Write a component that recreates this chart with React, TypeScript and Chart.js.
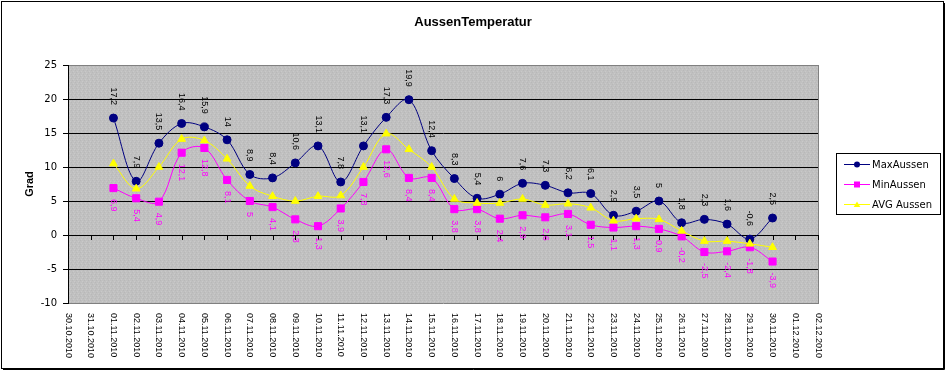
import React, { useEffect, useRef } from 'react';
import { Chart, registerables } from 'chart.js';

Chart.register(...registerables);

const categories = [
  '30.10.2010', '31.10.2010', '01.11.2010', '02.11.2010', '03.11.2010', '04.11.2010',
  '05.11.2010', '06.11.2010', '07.11.2010', '08.11.2010', '09.11.2010', '10.11.2010',
  '11.11.2010', '12.11.2010', '13.11.2010', '14.11.2010', '15.11.2010', '16.11.2010',
  '17.11.2010', '18.11.2010', '19.11.2010', '20.11.2010', '21.11.2010', '22.11.2010',
  '23.11.2010', '24.11.2010', '25.11.2010', '26.11.2010', '27.11.2010', '28.11.2010',
  '29.11.2010', '30.11.2010', '01.12.2010', '02.12.2010',
];

const maxAussen = [
  null, null, 17.2, 7.9, 13.5, 16.4, 15.9, 14, 8.9, 8.4, 10.6, 13.1, 7.8, 13.1, 17.3, 19.9,
  12.4, 8.3, 5.4, 6, 7.6, 7.3, 6.2, 6.1, 2.9, 3.5, 5, 1.8, 2.3, 1.6, -0.6, 2.5, null, null,
];

const minAussen = [
  null, null, 6.9, 5.4, 4.9, 12.1, 12.8, 8.1, 5, 4.1, 2.3, 1.3, 3.9, 7.8, 12.6, 8.4,
  8.4, 3.8, 3.8, 2.4, 2.9, 2.6, 3.1, 1.5, 1.1, 1.3, 0.9, -0.2, -2.5, -2.4, -1.8, -3.9, null, null,
];

const avgAussen = [
  null, null, 10.5, 6.8, 10.0, 14.1, 13.9, 11.2, 7.2, 5.7, 5.0, 5.7, 5.8, 10.0, 14.9, 12.6,
  10.0, 5.3, 4.7, 4.7, 5.3, 4.4, 4.6, 4.0, 2.1, 2.4, 2.3, 0.6, -0.9, -0.9, -1.3, -1.8, null, null,
];

const seriesNames = ['MaxAussen', 'MinAussen', 'AVG Aussen'];
const seriesColors = ['#000080', '#FF00FF', '#FFFF00'];
const labelColors = ['#000000', '#FF00FF'];
const chartTitle = 'AussenTemperatur';
const yTitle = 'Grad';
const yMin = -10;
const yMax = 25;
const yStep = 5;

const LABEL_FONT = '9px "Liberation Sans", Arial, sans-serif';

function fmt(v: number) {
  return String(v).replace('.', ',');
}

function drawMarker(ctx: CanvasRenderingContext2D, kind: string, x: number, y: number, r: number, color: string) {
  ctx.fillStyle = color;
  ctx.beginPath();
  if (kind === 'circle') {
    ctx.arc(x, y, r, 0, Math.PI * 2);
  } else if (kind === 'rect') {
    ctx.rect(x - r, y - r, r * 2, r * 2);
  } else {
    ctx.moveTo(x, y - r);
    ctx.lineTo(x + r * 1.1, y + r * 0.8);
    ctx.lineTo(x - r * 1.1, y + r * 0.8);
    ctx.closePath();
  }
  ctx.fill();
}

export default function App() {
  const canvasRef = useRef<HTMLCanvasElement | null>(null);

  useEffect(() => {
    document.body.style.margin = '0';
    const canvas = canvasRef.current;
    if (!canvas) return;

    const pc = document.createElement('canvas');
    pc.width = 4;
    pc.height = 4;
    const pctx = pc.getContext('2d')!;
    pctx.fillStyle = '#C0C0C0';
    pctx.fillRect(0, 0, 4, 4);
    pctx.fillStyle = '#B8B8B8';
    pctx.fillRect(0, 0, 1, 1);
    pctx.fillRect(3, 2, 1, 1);
    pctx.fillStyle = '#C9C9C9';
    pctx.fillRect(2, 1, 1, 1);
    pctx.fillRect(1, 3, 1, 1);
    const ctx0 = canvas.getContext('2d')!;
    const pattern = ctx0.createPattern(pc, 'repeat');

    const excelPlugin = {
      id: 'excelLook',
      beforeDraw(chart: any) {
        const { ctx, chartArea: a } = chart;
        ctx.save();
        ctx.fillStyle = '#FFFFFF';
        ctx.fillRect(0, 0, chart.width, chart.height);
        ctx.fillStyle = pattern || '#C0C0C0';
        ctx.fillRect(a.left, a.top, a.right - a.left, a.bottom - a.top);
        ctx.restore();
      },
      beforeDatasetsDraw(chart: any) {
        const { ctx, chartArea: a } = chart;
        const xs = chart.scales.x;
        const ys = chart.scales.y;
        ctx.save();
        ctx.strokeStyle = '#808080';
        ctx.lineWidth = 1;
        ctx.beginPath();
        ctx.moveTo(Math.round(a.right) + 0.5, a.top);
        ctx.lineTo(Math.round(a.right) + 0.5, a.bottom + 1);
        ctx.stroke();
        const y0 = Math.round(ys.getPixelForValue(0));
        ctx.strokeStyle = '#000000';
        ctx.beginPath();
        for (let i = 0; i < categories.length; i++) {
          const x = Math.round(xs.getPixelForValue(i)) + 0.5;
          ctx.moveTo(x, y0);
          ctx.lineTo(x, y0 + 5);
        }
        ctx.stroke();
        ctx.restore();
      },
      afterDatasetsDraw(chart: any) {
        const { ctx } = chart;
        ctx.save();
        ctx.font = LABEL_FONT;
        ctx.textAlign = 'left';
        ctx.textBaseline = 'middle';
        [0, 1].forEach((di) => {
          const meta = chart.getDatasetMeta(di);
          const values = chart.data.datasets[di].data;
          meta.data.forEach((pt: any, j: number) => {
            const v = values[j];
            if (v === null || v === undefined) return;
            const t = fmt(v);
            const w = ctx.measureText(t).width;
            ctx.save();
            const startY = di === 0 ? pt.y - 13 - w : pt.y + 11;
            ctx.translate(pt.x, startY);
            ctx.rotate(Math.PI / 2);
            ctx.fillStyle = labelColors[di];
            ctx.fillText(t, 0, 0);
            ctx.restore();
          });
        });
        ctx.restore();
      },
      afterDraw(chart: any) {
        const { ctx, chartArea: a } = chart;
        const xs = chart.scales.x;
        ctx.save();
        // frame
        ctx.strokeStyle = '#000000';
        ctx.lineWidth = 1;
        ctx.strokeRect(1.5, 1.5, 942, 367);
        ctx.beginPath();
        ctx.moveTo(944.5, 3);
        ctx.lineTo(944.5, 369.5);
        ctx.lineTo(3, 369.5);
        ctx.stroke();
        // title
        ctx.fillStyle = '#000000';
        ctx.font = 'bold 13px "Liberation Sans", Arial, sans-serif';
        ctx.textAlign = 'center';
        ctx.textBaseline = 'middle';
        ctx.fillText(chartTitle, 473, 22);
        // y title
        ctx.save();
        ctx.font = 'bold 11px "Liberation Sans", Arial, sans-serif';
        ctx.translate(30, (a.top + a.bottom) / 2);
        ctx.rotate(-Math.PI / 2);
        ctx.fillText(yTitle, 0, 0);
        ctx.restore();
        // x labels
        ctx.font = LABEL_FONT;
        ctx.textAlign = 'left';
        for (let i = 0; i < categories.length; i++) {
          const x = xs.getPixelForValue(i);
          ctx.save();
          ctx.translate(x, a.bottom + 10);
          ctx.rotate(Math.PI / 2);
          ctx.fillText(categories[i], 0, 0);
          ctx.restore();
        }
        // legend
        ctx.strokeStyle = '#000000';
        ctx.strokeRect(836.5, 153.5, 104, 61);
        const kinds = ['circle', 'rect', 'triangle'];
        const sizes = [3, 3, 3];
        ctx.font = '10px "DejaVu Sans", sans-serif';
        ctx.textAlign = 'left';
        for (let k = 0; k < 3; k++) {
          const ly = 164 + k * 20;
          ctx.strokeStyle = seriesColors[k];
          ctx.lineWidth = 1;
          ctx.beginPath();
          ctx.moveTo(844, ly + 0.5);
          ctx.lineTo(870, ly + 0.5);
          ctx.stroke();
          drawMarker(ctx, kinds[k], 857, ly + 0.5, sizes[k], seriesColors[k]);
          ctx.fillStyle = '#000000';
          ctx.fillText(seriesNames[k], 872, ly + 1);
        }
        ctx.restore();
      },
    };

    const chart = new Chart(canvas, {
      type: 'line',
      data: {
        labels: categories,
        datasets: [
          {
            label: seriesNames[0],
            data: maxAussen,
            borderColor: seriesColors[0],
            backgroundColor: seriesColors[0],
            borderWidth: 1,
            pointStyle: 'circle',
            pointRadius: 4,
            pointBorderWidth: 1,
            tension: 0.35,
            order: 3,
          },
          {
            label: seriesNames[1],
            data: minAussen,
            borderColor: seriesColors[1],
            backgroundColor: seriesColors[1],
            borderWidth: 1,
            pointStyle: 'rect',
            pointRadius: 5,
            pointBorderWidth: 1,
            tension: 0.35,
            order: 2,
          },
          {
            label: seriesNames[2],
            data: avgAussen,
            borderColor: seriesColors[2],
            backgroundColor: seriesColors[2],
            borderWidth: 1,
            pointStyle: 'triangle',
            pointRadius: 4.5,
            pointBorderWidth: 1,
            tension: 0.35,
            order: 1,
          },
        ],
      } as any,
      options: {
        responsive: false,
        animation: false,
        events: [],
        layout: { padding: { top: 65, right: 128, bottom: 0, left: 0 } },
        plugins: {
          legend: { display: false },
          title: { display: false },
          tooltip: { enabled: false },
        },
        scales: {
          x: {
            type: 'category',
            offset: false,
            grid: { display: false },
            border: { display: false },
            ticks: { display: false },
            afterFit: (s: any) => {
              s.height = 68;
            },
          },
          y: {
            min: yMin,
            max: yMax,
            ticks: {
              stepSize: yStep,
              color: '#000000',
              padding: 6,
              font: { family: '"DejaVu Sans", sans-serif', size: 10 },
            },
            grid: {
              color: (c: any) =>
                c.tick && (c.tick.value === yMax || c.tick.value === yMin) ? '#808080' : '#000000',
              tickColor: '#000000',
              tickLength: 5,
              lineWidth: 1,
            },
            border: { display: true, color: '#000000', width: 1 },
            afterFit: (s: any) => {
              s.width = 68;
            },
          },
        },
      } as any,
      plugins: [excelPlugin],
    });

    return () => chart.destroy();
  }, []);

  return (
    <div style={{ position: 'absolute', left: 0, top: 0, width: 946, height: 371 }}>
      <canvas ref={canvasRef} width={946} height={371} style={{ display: 'block' }} />
    </div>
  );
}
